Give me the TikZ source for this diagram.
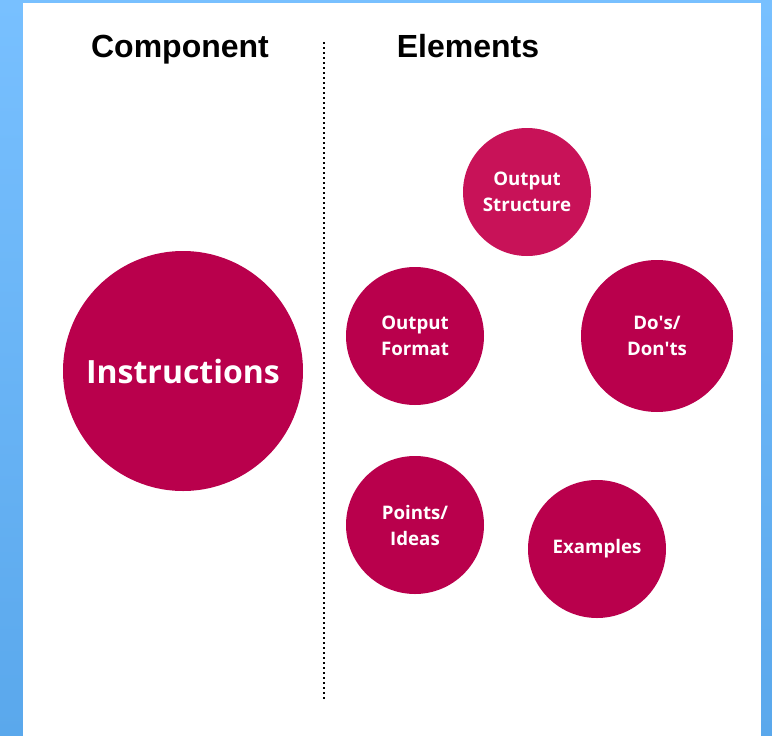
\documentclass[tikz,border=0pt]{standalone}
\usepackage{fontspec}
\setmainfont{Open Sans}
\newfontfamily\headfont{Liberation Sans}
\usepackage{tikz}
\usetikzlibrary{positioning}

\definecolor{skytop}{RGB}{120,192,255}
\definecolor{skybot}{RGB}{90,168,236}
\definecolor{elemred}{RGB}{185,0,76}
\definecolor{structred}{RGB}{200,18,88}

\begin{document}
\begin{tikzpicture}[x=0.75pt,y=-0.75pt,
  blob/.style={circle,fill=elemred,text=white,align=center,inner sep=0pt,
    font=\bfseries\fontsize{14}{19.5}\selectfont,minimum size=#1*0.75pt},
  heading/.style={anchor=base,font=\headfont\bfseries\fontsize{24}{28}\selectfont}]
  \useasboundingbox (0,0) rectangle (772,736);
  \shade[top color=skytop,bottom color=skybot] (0,0) rectangle (772,736);
  \fill[white] (23,3) rectangle (761,736);

  % headings and divider
  \node[heading] (comp) at (180,57) {Component};
  \node[heading] (elem) at (468,57) {Elements};
  \coordinate (divtop) at (324,42);
  \coordinate (divbot) at (324,701);
  \draw[line width=1.7pt,dash pattern=on 1.5pt off 2.25pt] (divtop) -- (divbot);

  % component
  \node[blob=240,font=\bfseries\fontsize{24}{28}\selectfont] (instr) at (183,371) {Instructions};

  % elements
  \node[blob=128,fill=structred] (outstruct) at (527,192) {Output\\Structure};
  \node[blob=138] (outformat) at (415,336) {Output\\Format};
  \node[blob=152] (dosdonts) at (657,336) {Do\textquotesingle s/\\Don\textquotesingle ts};
  \node[blob=138] (points) at (415,525) {Points/\\Ideas};
  \node[blob=138] (examples) at (597,549) {Examples};
\end{tikzpicture}
\end{document}
